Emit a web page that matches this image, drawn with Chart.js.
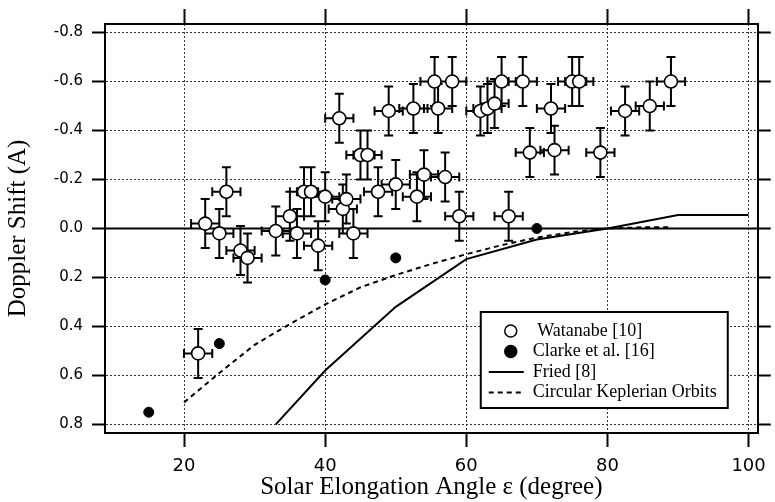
<!DOCTYPE html>
<html>
<head>
<meta charset="utf-8">
<title>Doppler Shift vs Solar Elongation</title>
<script src="https://cdn.jsdelivr.net/npm/chart.js@4.4.1/dist/chart.umd.min.js"></script>
<style>
  html, body { margin: 0; padding: 0; background: #fff; }
</style>
</head>
<body>
<canvas id="chart" width="775" height="502"></canvas>
<script>
"use strict";

// Watanabe [10] measurements, drawn as open circles with error bars
var watanabeAngle = [22, 23, 25, 26, 28, 29, 33, 35, 36, 37, 38, 39, 40, 42, 42.5, 43, 44, 45, 46, 47.5,
    49, 50, 52.5, 53, 54, 55.5, 56, 57, 58, 59, 62, 63, 64, 65, 66, 68, 69, 72, 72.5, 75, 76, 79, 82.5, 86, 89];
var watanabeShift = [0.51, -0.02, 0.02, -0.15, 0.09, 0.12, 0.01, -0.05, 0.02, -0.15, -0.15, 0.07, -0.13, -0.45, -0.08, -0.12, 0.02, -0.30, -0.30, -0.15,
    -0.48, -0.18, -0.49, -0.13, -0.22, -0.60, -0.49, -0.21, -0.60, -0.05, -0.48, -0.49, -0.51, -0.60, -0.05, -0.60, -0.31, -0.49, -0.32, -0.60, -0.60, -0.31, -0.48, -0.50, -0.60];
var watanabeAngleErr = 2;    // +/- degree
var watanabeShiftErr = 0.1;  // +/- A

// Clarke et al. [16]
var clarkeAngle = [15, 25, 40, 50, 70];
var clarkeShift = [0.75, 0.47, 0.21, 0.12, 0.0];

// Fried [8]
var friedAngle = [33, 40, 50, 60, 70, 80, 90, 100];
var friedShift = [0.8, 0.58, 0.32, 0.125, 0.045, 0.0, -0.055, -0.055];

// Circular Keplerian orbits
var keplerAngle = [20, 25, 30, 35, 40, 45, 50, 55, 60, 65, 70, 75, 80, 85, 89];
var keplerShift = [0.71, 0.59, 0.475, 0.39, 0.31, 0.24, 0.19, 0.145, 0.105, 0.068, 0.037, 0.015, 0.0, -0.005, -0.005];

var xTicks = [20, 40, 60, 80, 100];
var yTicks = [-0.8, -0.6, -0.4, -0.2, 0.0, 0.2, 0.4, 0.6, 0.8];

var xMin = 8.8, xMax = 101.3;
var yMin = -0.835, yMax = 0.835;

function toPoints(xs, ys) {
    return xs.map(function (x, i) { return { x: x, y: ys[i] }; });
}

function setXTicks(axis) {
    axis.ticks = xTicks.map(function (v) { return { value: v }; });
}
function setYTicks(axis) {
    axis.ticks = yTicks.map(function (v) { return { value: v }; });
}

// error bars go underneath the circles
var errorBars = {
    id: 'errorBars',
    beforeDatasetsDraw: function (chart) {
        var ctx = chart.ctx, xs = chart.scales.x, ys = chart.scales.y;
        var cap = 4.5;
        ctx.save();
        ctx.strokeStyle = '#000';
        ctx.lineWidth = 2;
        ctx.beginPath();
        watanabeAngle.forEach(function (a, i) {
            var s = watanabeShift[i];
            var px = xs.getPixelForValue(a), py = ys.getPixelForValue(s);
            var xl = xs.getPixelForValue(a - watanabeAngleErr), xr = xs.getPixelForValue(a + watanabeAngleErr);
            var yt = ys.getPixelForValue(s - watanabeShiftErr), yb = ys.getPixelForValue(s + watanabeShiftErr);
            ctx.moveTo(xl, py); ctx.lineTo(xr, py);
            ctx.moveTo(xl, py - cap); ctx.lineTo(xl, py + cap);
            ctx.moveTo(xr, py - cap); ctx.lineTo(xr, py + cap);
            ctx.moveTo(px, yt); ctx.lineTo(px, yb);
            ctx.moveTo(px - cap, yt); ctx.lineTo(px + cap, yt);
            ctx.moveTo(px - cap, yb); ctx.lineTo(px + cap, yb);
        });
        ctx.stroke();
        ctx.restore();
    }
};

// boxed legend in the lower right of the plot
var boxLegend = {
    id: 'boxLegend',
    afterDraw: function (chart) {
        var ctx = chart.ctx, area = chart.chartArea;
        var w = 247, h = 96;
        var left = area.right - 30 - w, top = area.bottom - 25 - h;
        ctx.save();
        ctx.fillStyle = '#fff';
        ctx.fillRect(left, top, w, h);
        ctx.lineWidth = 2;
        ctx.strokeStyle = '#000';
        ctx.strokeRect(left, top, w, h);
        ctx.font = '18px "Liberation Serif", "Times New Roman", serif';
        ctx.textBaseline = 'middle';
        chart.data.datasets.forEach(function (ds, i) {
            if (!ds.label) return;
            var y = top + 19 + i * 20.5;
            ctx.strokeStyle = '#000';
            ctx.fillStyle = ds.pointBackgroundColor || '#000';
            if (ds.showLine) {
                ctx.lineWidth = ds.borderWidth;
                ctx.setLineDash(ds.borderDash || []);
                ctx.beginPath();
                ctx.moveTo(left + 8, y);
                ctx.lineTo(left + 43, y);
                ctx.stroke();
                ctx.setLineDash([]);
            } else {
                ctx.lineWidth = 1.5;
                ctx.beginPath();
                ctx.arc(left + 30, y, 6, 0, Math.PI * 2);
                ctx.fill();
                ctx.stroke();
            }
            ctx.fillStyle = '#000';
            ctx.fillText(ds.label, left + 52, y);
        });
        ctx.restore();
    }
};

var gridStyle = {
    color: '#333',
    lineWidth: 1,
    tickLength: 14,
    tickWidth: 2,
    tickColor: '#000',
    tickBorderDash: []
};

var chart = new Chart(document.getElementById('chart'), {
    type: 'scatter',
    data: {
        datasets: [
            {
                label: ' Watanabe [10]',
                data: toPoints(watanabeAngle, watanabeShift),
                pointRadius: 6.5,
                pointBackgroundColor: '#fff',
                pointBorderColor: '#000',
                pointBorderWidth: 1.6,
                order: 0
            },
            {
                label: 'Clarke et al. [16]',
                data: toPoints(clarkeAngle, clarkeShift),
                pointRadius: 5,
                pointBackgroundColor: '#000',
                pointBorderColor: '#000',
                pointBorderWidth: 1,
                order: 1
            },
            {
                label: 'Fried [8]',
                data: toPoints(friedAngle, friedShift),
                showLine: true,
                borderColor: '#000',
                borderWidth: 2,
                pointRadius: 0,
                order: 2
            },
            {
                label: 'Circular Keplerian Orbits',
                data: toPoints(keplerAngle, keplerShift),
                showLine: true,
                borderColor: '#000',
                borderWidth: 2,
                borderDash: [5, 4],
                pointRadius: 0,
                order: 3
            },
            {
                // solid zero line
                data: [{ x: xMin, y: 0 }, { x: xMax, y: 0 }],
                showLine: true,
                borderColor: '#000',
                borderWidth: 2,
                pointRadius: 0,
                order: 4
            }
        ]
    },
    options: {
        responsive: false,
        animation: false,
        layout: { padding: 0 },
        plugins: {
            legend: { display: false },
            tooltip: { enabled: false }
        },
        scales: {
            x: {
                type: 'linear',
                position: 'bottom',
                min: xMin,
                max: xMax,
                afterBuildTicks: setXTicks,
                afterFit: function (s) { s.height = 69; },
                ticks: {
                    color: '#000',
                    padding: 9,
                    maxRotation: 0,
                    font: { family: 'DejaVu Sans', size: 18 }
                },
                grid: gridStyle,
                border: { color: '#000', width: 2, dash: [2, 2] },
                title: {
                    display: true,
                    text: 'Solar Elongation Angle ε (degree)',
                    color: '#000',
                    font: { family: 'Liberation Serif', size: 25 },
                    padding: { top: 0, bottom: 0 }
                }
            },
            y: {
                type: 'linear',
                position: 'left',
                reverse: true,
                min: yMin,
                max: yMax,
                afterBuildTicks: setYTicks,
                afterFit: function (s) { s.width = 105; },
                ticks: {
                    color: '#000',
                    padding: 9,
                    font: { family: 'DejaVu Sans', size: 15 },
                    callback: function (v) { return (Math.abs(v) < 1e-9 ? 0 : v).toFixed(1); }
                },
                grid: { color: '#333', lineWidth: 1, tickLength: 13, tickWidth: 2, tickColor: '#000', tickBorderDash: [] },
                border: { color: '#000', width: 2, dash: [2, 2] },
                title: {
                    display: true,
                    text: 'Doppler Shift (A)',
                    color: '#000',
                    font: { family: 'Liberation Serif', size: 25 },
                    padding: { top: 3, bottom: 0 }
                }
            },
            x2: {
                type: 'linear',
                position: 'top',
                min: xMin,
                max: xMax,
                afterBuildTicks: setXTicks,
                afterFit: function (s) { s.height = 24; },
                ticks: { display: false },
                grid: { drawOnChartArea: false, tickLength: 15, tickWidth: 2, tickColor: '#000', tickBorderDash: [] },
                border: { color: '#000', width: 2 }
            },
            y2: {
                type: 'linear',
                position: 'right',
                reverse: true,
                min: yMin,
                max: yMax,
                afterBuildTicks: setYTicks,
                afterFit: function (s) { s.width = 13; },
                ticks: { display: false },
                grid: { drawOnChartArea: false, tickLength: 13, tickWidth: 2, tickColor: '#000', tickBorderDash: [] },
                border: { color: '#000', width: 2 }
            }
        }
    },
    plugins: [errorBars, boxLegend]
});
</script>
</body>
</html>
